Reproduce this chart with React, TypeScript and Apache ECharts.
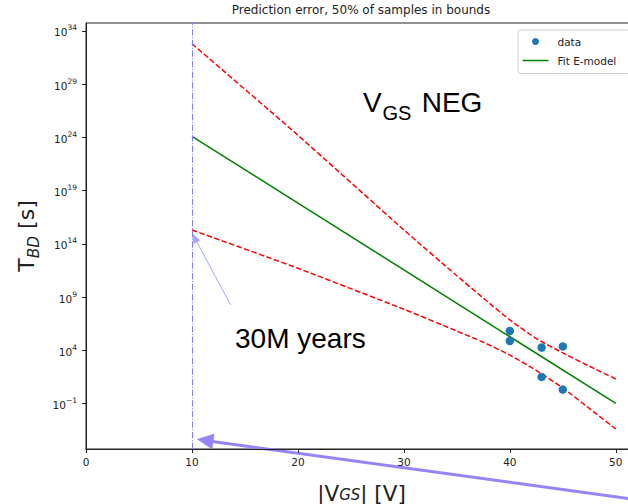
import React, { useEffect, useRef } from "react";
import * as echarts from "echarts";

// Measured data (|V_GS| in V, T_BD in s)
const dataX = [40, 40, 43, 45, 43, 45];
const dataY = [6.5e5, 7.4e4, 1.8e4, 2.3e4, 31, 2.0];
// Fitted E-model (straight line on log axis)
const fitX = [10, 50];
const fitY = [1.26e24, 0.1];
// Prediction bounds
const bandX = [10, 20, 30, 35, 37.5, 40, 42.5, 45, 47.5, 50];
const upperY = [6.3e32, 1.6e24, 2.0e15, 1.0e11, 7.9e8, 7.1e6, 1.26e5, 5.6e3, 316, 20];
const lowerY = [2.0e15, 5.0e11, 7.1e7, 6.3e5, 5.6e4, 3.5e3, 126, 2.8, 0.034, 4.0e-4];
// Reference voltage line
const limitX = 10;
// Tick labels
const xTicks = [0, 10, 20, 30, 40, 50];
const yTicks = [1e-1, 1e4, 1e9, 1e14, 1e19, 1e24, 1e29, 1e34];

const zip = (xs: number[], ys: number[]) => xs.map((x, i) => [x, ys[i]]);

const FONT = "DejaVu Sans";
const ARIAL = "Liberation Sans";

export default function App() {
  const ref = useRef<HTMLDivElement>(null);
  useEffect(() => {
    if (!ref.current) return;
    const chart = echarts.init(ref.current, undefined, { renderer: "svg" });
    const supText = (v: number) => {
      const e = Math.round(Math.log10(v));
      return `{b|10}{s|${e < 0 ? "\u2212" + -e : e}}`;
    };
    chart.setOption({
      animation: false,
      backgroundColor: "#ffffff",
      title: {
        text: "Prediction error, 50% of samples in bounds",
        left: 361,
        top: 4,
        textAlign: "center",
        padding: 0,
        textStyle: { fontFamily: FONT, fontSize: 12, fontWeight: "normal", color: "#222" },
      },
      legend: {
        orient: "vertical",
        left: 518,
        top: 30,
        data: [
          { name: "data" },
          { name: "Fit E-model", icon: "path://M0,0L26,0L26,1.5L0,1.5Z" },
        ],
        itemWidth: 26,
        itemHeight: 7,
        itemGap: 8,
        padding: [6, 14, 7.5, 4.5],
        borderColor: "#cccccc",
        borderWidth: 1,
        borderRadius: 3,
        backgroundColor: "rgba(255,255,255,0.8)",
        textStyle: { fontFamily: FONT, fontSize: 10.5, color: "#222", padding: [0, 0, 0, 4] },
      },
      grid: {
        left: 86,
        top: 23,
        width: 551,
        height: 426,
        outerBoundsMode: "none",
        containLabel: false,
        show: true,
        borderColor: "#222",
        borderWidth: 1,
        backgroundColor: "transparent",
      },
      xAxis: {
        type: "value",
        min: 0,
        max: 52,
        interval: 10,
        name: "{a||V}{i|GS}{a|| [V]}",
        nameLocation: "middle",
        nameGap: 33,
        nameTextStyle: {
          fontFamily: FONT,
          color: "#222",
          rich: {
            a: { fontFamily: FONT, fontSize: 21.5, lineHeight: 20, verticalAlign: "top", color: "#222" },
            i: { fontFamily: FONT, fontSize: 15, fontStyle: "italic", lineHeight: 14, verticalAlign: "bottom", color: "#222" },
          },
        },
        axisLine: { lineStyle: { color: "#222", width: 1 } },
        axisTick: { length: 4, lineStyle: { color: "#222" }, customValues: xTicks },
        axisLabel: { fontFamily: FONT, fontSize: 10.5, color: "#222", margin: 7, customValues: xTicks },
        splitLine: { show: false },
      },
      yAxis: {
        type: "log",
        logBase: 10,
        min: Math.pow(10, -5.28),
        max: Math.pow(10, 34.75),
        name: "{a|T}{i|BD}{a| [s]}",
        nameLocation: "middle",
        nameGap: 44,
        nameTextStyle: {
          fontFamily: FONT,
          color: "#222",
          rich: {
            a: { fontFamily: FONT, fontSize: 22, lineHeight: 26, verticalAlign: "top", color: "#222" },
            i: { fontFamily: FONT, fontSize: 15.4, fontStyle: "italic", lineHeight: 14, verticalAlign: "bottom", color: "#222" },
          },
        },
        axisLine: { show: true, lineStyle: { color: "#222", width: 1 } },
        axisTick: { show: true, length: 4, lineStyle: { color: "#222" }, customValues: yTicks },
        axisLabel: {
          margin: 9,
          customValues: yTicks,
          formatter: (v: number) => supText(v),
          rich: {
            b: { fontFamily: FONT, fontSize: 10.5, color: "#222", lineHeight: 14, verticalAlign: "bottom" },
            s: { fontFamily: FONT, fontSize: 7.5, color: "#222", lineHeight: 8, verticalAlign: "top" },
          },
        },
        splitLine: { show: false },
        minorTick: { show: false },
      },
      series: [
        {
          name: "upper",
          type: "line",
          data: zip(bandX, upperY),
          showSymbol: false,
          symbol: "none",
          smooth: 0.2,
          lineStyle: { color: "#ff0000", width: 1.5, type: [5.5, 2.4] },
          z: 2,
        },
        {
          name: "lower",
          type: "line",
          data: zip(bandX, lowerY),
          showSymbol: false,
          symbol: "none",
          smooth: 0.2,
          lineStyle: { color: "#ff0000", width: 1.5, type: [5.5, 2.4] },
          z: 2,
        },
        {
          name: "Fit E-model",
          type: "line",
          data: zip(fitX, fitY),
          showSymbol: false,
          symbol: "none",
          color: "#008000",
          itemStyle: { color: "#008000" },
          lineStyle: { color: "#008000", width: 1.5 },
          z: 3,
          markLine: {
            silent: true,
            symbol: "none",
            label: { show: false },
            lineStyle: { color: "#7f7fff", width: 1, type: [6.4, 1.6, 1, 1.6] },
            data: [{ xAxis: limitX }],
          },
        },
        {
          name: "data",
          type: "scatter",
          data: zip(dataX, dataY),
          symbol: "circle",
          symbolSize: 8.5,
          color: "#1f77b4",
          itemStyle: { color: "#1f77b4", opacity: 1 },
          z: 4,
        },
      ],
      graphic: [
        {
          type: "text",
          x: 363,
          y: 102.5,
          style: { text: "V", font: `28px '${ARIAL}'`, fill: "#000", textAlign: "left", textVerticalAlign: "middle" },
        },
        {
          type: "text",
          x: 382.5,
          y: 112.8,
          style: { text: "GS", font: `20px '${ARIAL}'`, fill: "#000", textAlign: "left", textVerticalAlign: "middle" },
        },
        {
          type: "text",
          x: 421.7,
          y: 102.5,
          style: { text: "NEG", font: `28px '${ARIAL}'`, fill: "#000", textAlign: "left", textVerticalAlign: "middle" },
        },
        {
          type: "text",
          x: 235,
          y: 338.3,
          style: { text: "30M years", font: `28px '${ARIAL}'`, fill: "#000", textAlign: "left", textVerticalAlign: "middle" },
        },
        {
          type: "line",
          shape: { x1: 230.7, y1: 305, x2: 196.8, y2: 241.9 },
          style: { stroke: "#a8a2ff", lineWidth: 1 },
        },
        {
          type: "polygon",
          shape: { points: [[192.5, 234], [199.9, 240.3], [193.7, 243.6]] },
          style: { fill: "#a8a2ff", stroke: "#a8a2ff", lineWidth: 0.5 },
        },
        {
          type: "line",
          shape: { x1: 636, y1: 499.6, x2: 212, y2: 441.4 },
          style: { stroke: "#9684f8", lineWidth: 3 },
        },
        {
          type: "polygon",
          shape: { points: [[197.3, 439.3], [214.2, 434.1], [212.1, 448.9]] },
          style: { fill: "#9684f8", stroke: "#9684f8", lineWidth: 0.5 },
        },
      ],
    });
    return () => chart.dispose();
  }, []);
  return (
    <div
      ref={ref}
      style={{ position: "absolute", left: 0, top: 0, width: 628, height: 504, background: "#fff" }}
    />
  );
}
